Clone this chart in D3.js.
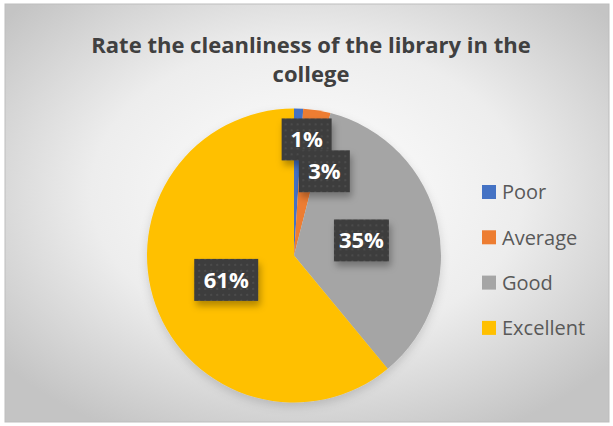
<!DOCTYPE html>
<html>
<head>
<meta charset="utf-8">
<script src="https://cdn.jsdelivr.net/npm/d3@7"></script>
<style>
  body { margin: 0; background: #ffffff; }
  svg text { font-family: "Open Sans", "Liberation Sans", sans-serif; }
</style>
</head>
<body>
<div id="chart"></div>
<script>
// chart data
const categories = ["Poor", "Average", "Good", "Excellent"];
const shares = [1, 3, 35, 61];
const labelText = ["1%", "3%", "35%", "61%"];
const colors = ["#4472C4", "#ED7D31", "#A5A5A5", "#FFC000"];
const titleLines = ["Rate the cleanliness of the library in the", "college"];

const width = 613, height = 426;
const cx = 294, cy = 255.5, radius = 147;

const svg = d3.select("#chart").append("svg")
    .attr("width", width)
    .attr("height", height);

const defs = svg.append("defs");

// background gradient
const bg = defs.append("radialGradient")
    .attr("id", "bgGrad")
    .attr("cx", "50%").attr("cy", "45%")
    .attr("r", "65%");
bg.append("stop").attr("offset", "0%").attr("stop-color", "#ffffff");
bg.append("stop").attr("offset", "55%").attr("stop-color", "#ededed");
bg.append("stop").attr("offset", "100%").attr("stop-color", "#c4c4c4");

// dotted label fill
const pat = defs.append("pattern")
    .attr("id", "dots")
    .attr("patternUnits", "userSpaceOnUse")
    .attr("width", 6).attr("height", 6);
pat.append("rect").attr("width", 6).attr("height", 6).attr("fill", "#3d3d3d");
pat.append("rect").attr("x", 2).attr("y", 2).attr("width", 2).attr("height", 2).attr("fill", "#4c4c4c");

const shadow = defs.append("filter").attr("id", "shadow")
    .attr("x", "-20%").attr("y", "-20%").attr("width", "150%").attr("height", "170%");
shadow.append("feDropShadow")
    .attr("dx", 2).attr("dy", 5).attr("stdDeviation", 3.5)
    .attr("flood-color", "#000").attr("flood-opacity", 0.3);

const pieShadow = defs.append("filter").attr("id", "pieShadow")
    .attr("x", "-20%").attr("y", "-20%").attr("width", "140%").attr("height", "140%");
pieShadow.append("feDropShadow")
    .attr("dx", 0).attr("dy", 4).attr("stdDeviation", 5)
    .attr("flood-color", "#000").attr("flood-opacity", 0.15);

// chart area
svg.append("rect")
    .attr("x", 5).attr("y", 4)
    .attr("width", 604).attr("height", 418)
    .attr("fill", "url(#bgGrad)")
    .attr("stroke", "#bdbdbd")
    .attr("stroke-width", 1);

// title
svg.append("g").selectAll("text")
    .data(titleLines)
    .enter().append("text")
    .attr("x", 311)
    .attr("y", (d, i) => 53 + i * 29)
    .attr("text-anchor", "middle")
    .attr("font-size", 22)
    .attr("font-weight", "bold")
    .attr("fill", "#404040")
    .text(d => d);

// pie
const pie = d3.pie().sort(null).value(d => d);
const arcs = pie(shares);
const arc = d3.arc().innerRadius(0).outerRadius(radius);

const g = svg.append("g")
    .attr("transform", "translate(" + cx + "," + cy + ")");

g.append("g")
    .attr("filter", "url(#pieShadow)")
    .selectAll("path")
    .data(arcs)
    .enter().append("path")
    .attr("d", arc)
    .attr("fill", (d, i) => colors[i]);

// data labels (best-fit placement like the original)
const labelRadius = [0.79, 0.58, 0.47, 0.49];
const labelNudge = [[9, 0], [17, 0], [0, 0], [0, 0]];
const boxW = [50, 51, 55, 64], boxH = 42;

const labels = g.selectAll("g.lbl")
    .data(arcs)
    .enter().append("g")
    .attr("class", "lbl")
    .attr("transform", function(d, i) {
        const la = d3.arc().innerRadius(radius * labelRadius[i]).outerRadius(radius * labelRadius[i]);
        const c = la.centroid(d);
        return "translate(" + (c[0] + labelNudge[i][0]) + "," + (c[1] + labelNudge[i][1]) + ")";
    });

labels.append("rect")
    .attr("x", (d, i) => -boxW[i] / 2)
    .attr("y", -boxH / 2)
    .attr("width", (d, i) => boxW[i])
    .attr("height", boxH)
    .attr("fill", "url(#dots)")
    .attr("filter", "url(#shadow)");

labels.append("text")
    .attr("text-anchor", "middle")
    .attr("dy", "0.36em")
    .attr("font-size", 22)
    .attr("font-weight", "bold")
    .attr("fill", "#ffffff")
    .text((d, i) => labelText[i]);

// legend
const legend = svg.append("g")
    .attr("transform", "translate(482,185)");

const item = legend.selectAll("g")
    .data(categories)
    .enter().append("g")
    .attr("transform", (d, i) => "translate(0," + i * 45.3 + ")");

item.append("rect")
    .attr("width", 14).attr("height", 14)
    .attr("fill", (d, i) => colors[i]);

item.append("text")
    .attr("x", 20)
    .attr("y", 7)
    .attr("dy", "0.36em")
    .attr("font-size", 20)
    .attr("fill", "#595959")
    .text(d => d);
</script>
</body>
</html>
